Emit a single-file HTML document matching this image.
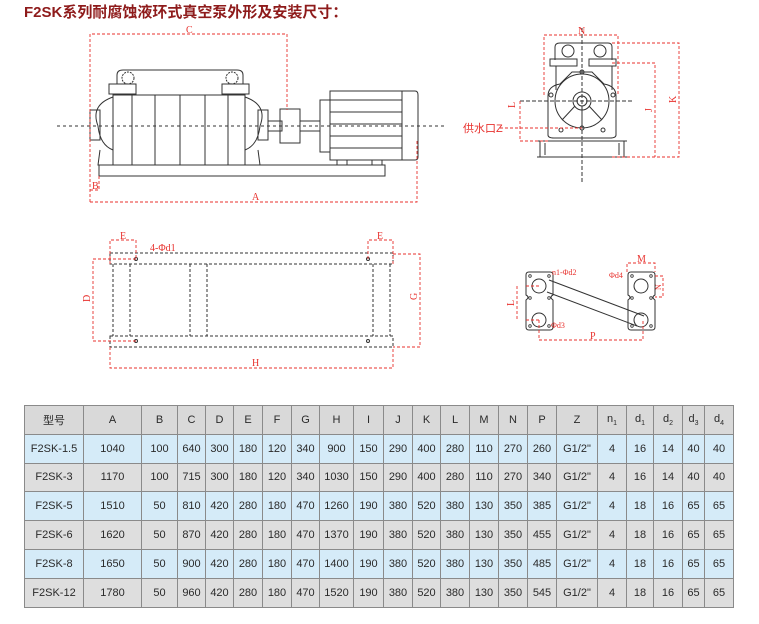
<!DOCTYPE html>
<html><head><meta charset="utf-8"><style>
body{margin:0;width:759px;height:624px;background:#fff;position:relative;overflow:hidden;font-family:"Liberation Sans","Noto Sans CJK SC",sans-serif}
.t{position:absolute;left:24px;top:1px;font-size:15px;font-weight:bold;color:#8e1b1b;letter-spacing:0}
table{position:absolute;left:24px;top:405px;border-collapse:collapse;table-layout:fixed;font-size:11px;color:#2a2a2a}
td{border:1px solid #8a8a8a;text-align:center;height:27.8px;padding:0;white-space:nowrap}
tr.h td{background:#d9d9d9}
tr.b td{background:#d5ebf8}
tr.g td{background:#dedede}
svg{position:absolute;left:0;top:0}
</style></head><body>
<div class="t">F2SK系列耐腐蚀液环式真空泵外形及安装尺寸：</div>
<svg width="759" height="400" viewBox="0 0 759 400" font-family="Liberation Serif" font-size="10" fill="none">
<g stroke="#333" stroke-width="1">
<path d="M117 84 V75 Q117 70 123 70 H237 Q243 70 243 75 V84"/>
<circle cx="128" cy="78" r="6" stroke-dasharray="2 1"/><circle cx="232" cy="78" r="6" stroke-dasharray="2 1"/>
<rect x="109" y="84" width="27" height="10"/><rect x="222" y="84" width="27" height="10"/>
<rect x="113" y="95" width="132" height="70"/>
<line x1="132" y1="95" x2="132" y2="165"/><line x1="155" y1="95" x2="155" y2="165"/><line x1="180" y1="95" x2="180" y2="165"/><line x1="205" y1="95" x2="205" y2="165"/><line x1="228" y1="95" x2="228" y2="165"/>
<path d="M113 97 Q90 105 98 126 Q100 145 113 150"/><path d="M245 97 Q268 105 260 126 Q258 145 245 150"/>
<rect x="90" y="110" width="10" height="30"/><rect x="258" y="110" width="10" height="30"/>
<path d="M100 150 L98 165 H115"/><path d="M258 150 L260 165 H243"/>
<rect x="268" y="121" width="14" height="10"/><rect x="280" y="109" width="20" height="34"/>
<rect x="300" y="121" width="20" height="10"/>
<rect x="320" y="100" width="10" height="52"/>
<path d="M330 91 H415 Q418 91 418 95 V157 Q418 160 415 160 H330 Z"/>
<line x1="402" y1="91" x2="402" y2="160"/>
<line x1="330" y1="100" x2="402" y2="100"/><line x1="330" y1="112" x2="402" y2="112"/><line x1="330" y1="124" x2="402" y2="124"/><line x1="330" y1="136" x2="402" y2="136"/><line x1="330" y1="148" x2="402" y2="148"/>
<rect x="337" y="160" width="10" height="5"/><rect x="372" y="160" width="10" height="5"/>
<path d="M99 165 H385 V176 H99 Z"/>
<line x1="57" y1="126" x2="447" y2="126" stroke-dasharray="3 3"/>
<path d="M555 60 V47 Q555 43 560 43 H608 Q612 43 612 47 V60"/>
<circle cx="568" cy="51" r="6"/><circle cx="600" cy="51" r="6"/>
<rect x="550" y="59" width="27" height="7"/><rect x="589" y="59" width="27" height="7"/>
<line x1="556" y1="66" x2="556" y2="90"/><line x1="612" y1="66" x2="612" y2="90"/>
<path d="M548 96 Q548 86 560 84 L572 72 H592 L604 84 Q616 86 616 96 V135 Q616 138 610 138 H554 Q548 138 548 135 Z"/>
<circle cx="582" cy="101" r="27"/><circle cx="582" cy="101" r="9"/><circle cx="582" cy="101" r="5"/>
<line x1="582" y1="110" x2="582" y2="128"/><line x1="575" y1="106" x2="562" y2="120"/><line x1="589" y1="106" x2="602" y2="120"/>
<circle cx="582" cy="72" r="2"/><circle cx="551" cy="95" r="2"/><circle cx="613" cy="95" r="2"/><circle cx="561" cy="130" r="2"/><circle cx="603" cy="130" r="2"/><circle cx="582" cy="128" r="2"/>
<path d="M537 141 H627 M540 141 V157 M624 141 V157 M537 157 H627 M545 143 V155 M619 143 V155"/>
<line x1="582" y1="28" x2="582" y2="182" stroke-dasharray="4 2"/>
<line x1="520" y1="101" x2="632" y2="101" stroke-dasharray="4 2"/>
<g stroke-dasharray="3 2">
<rect x="110" y="253" width="283" height="11"/><rect x="110" y="336" width="283" height="11"/>
<path d="M113 264 V336 M130 264 V336 M190 264 V336 M207 264 V336 M373 264 V336 M390 264 V336"/>
</g>
<circle cx="136" cy="259" r="1.5"/><circle cx="368" cy="259" r="1.5"/><circle cx="136" cy="341" r="1.5"/><circle cx="368" cy="341" r="1.5"/>
<path d="M529 272 H550 Q553 272 553 275 V295 Q549 297 553 300 V327 Q553 330 550 330 H529 Q526 330 526 327 V300 Q530 297 526 295 V275 Q526 272 529 272Z"/>
<path d="M631 272 H652 Q655 272 655 275 V295 Q651 297 655 300 V327 Q655 330 652 330 H631 Q628 330 628 327 V300 Q632 297 628 295 V275 Q628 272 631 272Z"/>
<circle cx="539" cy="286" r="7"/><circle cx="539" cy="320" r="7"/><circle cx="641" cy="286" r="7"/><circle cx="641" cy="320" r="7"/>
<path d="M549 280 L644 316 M547 292 L637 326"/>
<g stroke-width="0.8"><circle cx="530" cy="276" r="1.3"/><circle cx="549" cy="276" r="1.3"/><circle cx="530" cy="326" r="1.3"/><circle cx="549" cy="326" r="1.3"/><circle cx="530" cy="298" r="1.3"/><circle cx="549" cy="298" r="1.3"/><circle cx="632" cy="276" r="1.3"/><circle cx="651" cy="276" r="1.3"/><circle cx="632" cy="326" r="1.3"/><circle cx="651" cy="326" r="1.3"/><circle cx="632" cy="298" r="1.3"/><circle cx="651" cy="298" r="1.3"/></g>
</g>
<g stroke="#e8322e" stroke-width="0.9" stroke-dasharray="3 2">
<path d="M90 202 V34 H287 V110"/><path d="M90 202 H417 V140"/><path d="M99 176 V190 H90"/>
<path d="M544 95 V35 H618 V95"/><path d="M612 43 H679 V157 H612"/><path d="M612 63 H655 V157"/>
<path d="M520 101 V141 H548"/><path d="M500 128 H582"/>
<path d="M110 264 V240 H136 V259"/><path d="M368 259 V240 H393 V264"/><path d="M136 259 H93 V341 H136"/><path d="M393 254 H420 V347 H393"/><path d="M110 347 V368 H393 V347"/>
<path d="M526 286 H541 M526 320 H541 M517 286 V320"/><path d="M627 272 V263 H655 V272"/><path d="M655 276 H663 V297 H655"/><path d="M539 320 V340 H643 V320"/>
</g>
<g fill="#e8322e" font-size="10">
<text x="186" y="33">C</text><text x="252" y="200">A</text><text x="92" y="189">B</text>
<text x="578" y="34">N</text><text x="463" y="132" font-family="Liberation Sans,Noto Sans CJK SC,sans-serif" font-size="11">供水口Z</text>
<text x="120" y="239">E</text><text x="377" y="239">E</text><text x="150" y="251">4-Φd1</text>
<text x="252" y="366">H</text><text x="552" y="275" font-size="8">n1-Φd2</text><text x="551" y="328" font-size="8">Φd3</text><text x="609" y="278" font-size="8">Φd4</text><text x="590" y="339">P</text><text x="637" y="262">M</text>
<text transform="translate(90,302) rotate(-90)">D</text><text transform="translate(417,300) rotate(-90)">G</text>
<text transform="translate(515,108) rotate(-90)">L</text><text transform="translate(652,112) rotate(-90)">J</text><text transform="translate(676,103) rotate(-90)">K</text>
<text transform="translate(514,306) rotate(-90)">L</text><text transform="translate(661,290) rotate(-90)" font-size="8">N</text>
</g>
</svg>
<table>
<colgroup><col style="width:59px"><col style="width:58px"><col style="width:36px"><col style="width:28px"><col style="width:28px"><col style="width:29px"><col style="width:29px"><col style="width:28px"><col style="width:34px"><col style="width:30px"><col style="width:29px"><col style="width:28px"><col style="width:29px"><col style="width:29px"><col style="width:29px"><col style="width:29px"><col style="width:41px"><col style="width:29px"><col style="width:27px"><col style="width:29px"><col style="width:22px"><col style="width:29px"></colgroup>
<tr class="h"><td>型号</td><td>A</td><td>B</td><td>C</td><td>D</td><td>E</td><td>F</td><td>G</td><td>H</td><td>I</td><td>J</td><td>K</td><td>L</td><td>M</td><td>N</td><td>P</td><td>Z</td><td>n<sub style="font-size:7px">1</sub></td><td>d<sub style="font-size:7px">1</sub></td><td>d<sub style="font-size:7px">2</sub></td><td>d<sub style="font-size:7px">3</sub></td><td>d<sub style="font-size:7px">4</sub></td></tr>
<tr class="b"><td>F2SK-1.5</td><td>1040</td><td>100</td><td>640</td><td>300</td><td>180</td><td>120</td><td>340</td><td>900</td><td>150</td><td>290</td><td>400</td><td>280</td><td>110</td><td>270</td><td>260</td><td>G1/2"</td><td>4</td><td>16</td><td>14</td><td>40</td><td>40</td></tr>
<tr class="g"><td>F2SK-3</td><td>1170</td><td>100</td><td>715</td><td>300</td><td>180</td><td>120</td><td>340</td><td>1030</td><td>150</td><td>290</td><td>400</td><td>280</td><td>110</td><td>270</td><td>340</td><td>G1/2"</td><td>4</td><td>16</td><td>14</td><td>40</td><td>40</td></tr>
<tr class="b"><td>F2SK-5</td><td>1510</td><td>50</td><td>810</td><td>420</td><td>280</td><td>180</td><td>470</td><td>1260</td><td>190</td><td>380</td><td>520</td><td>380</td><td>130</td><td>350</td><td>385</td><td>G1/2"</td><td>4</td><td>18</td><td>16</td><td>65</td><td>65</td></tr>
<tr class="g"><td>F2SK-6</td><td>1620</td><td>50</td><td>870</td><td>420</td><td>280</td><td>180</td><td>470</td><td>1370</td><td>190</td><td>380</td><td>520</td><td>380</td><td>130</td><td>350</td><td>455</td><td>G1/2"</td><td>4</td><td>18</td><td>16</td><td>65</td><td>65</td></tr>
<tr class="b"><td>F2SK-8</td><td>1650</td><td>50</td><td>900</td><td>420</td><td>280</td><td>180</td><td>470</td><td>1400</td><td>190</td><td>380</td><td>520</td><td>380</td><td>130</td><td>350</td><td>485</td><td>G1/2"</td><td>4</td><td>18</td><td>16</td><td>65</td><td>65</td></tr>
<tr class="g"><td>F2SK-12</td><td>1780</td><td>50</td><td>960</td><td>420</td><td>280</td><td>180</td><td>470</td><td>1520</td><td>190</td><td>380</td><td>520</td><td>380</td><td>130</td><td>350</td><td>545</td><td>G1/2"</td><td>4</td><td>18</td><td>16</td><td>65</td><td>65</td></tr>
</table>
</body></html>
